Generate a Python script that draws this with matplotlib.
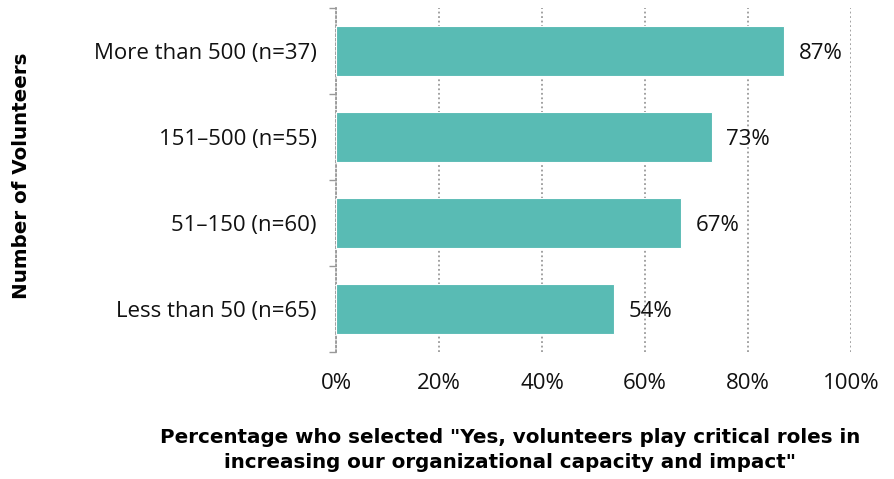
import matplotlib
matplotlib.use("Agg")
import matplotlib.pyplot as plt
from matplotlib.ticker import FixedLocator, PercentFormatter

categories = ["More than 500 (n=37)", "151\u2013500 (n=55)", "51\u2013150 (n=60)", "Less than 50 (n=65)"]
values = [87, 73, 67, 54]
x_ticks = [0, 20, 40, 60, 80, 100]

plt.rcParams["font.family"] = ["Open Sans", "DejaVu Sans"]

fig = plt.figure(figsize=(8.94, 4.79), dpi=100)
ax = fig.add_axes([336 / 894, 1 - 352 / 479, 515 / 894, 344 / 479])

ypos = list(range(len(categories)))
ax.barh(ypos, values, height=0.58, color="#59BBB4", edgecolor="white", linewidth=0.8, zorder=3)
ax.set_ylim(len(categories) - 0.5, -0.5)
ax.set_xlim(0, 100)

# value labels just right of each bar end
for y, v in zip(ypos, values):
    ax.text(v + 2.8, y + 0.03, f"{v}%", va="center", ha="left", fontsize=16, color="#111111")

ax.set_yticks(ypos)
ax.set_yticklabels(categories, fontsize=16, color="#111111")
ax.tick_params(axis="y", which="major", length=0, pad=14)
ax.yaxis.set_minor_locator(FixedLocator([i - 0.5 for i in range(len(categories) + 1)]))
ax.tick_params(axis="y", which="minor", length=5, color="#999999", width=1)

ax.set_xticks(x_ticks)
ax.xaxis.set_major_formatter(PercentFormatter(decimals=0))
ax.tick_params(axis="x", length=0, pad=15, labelsize=16, labelcolor="#111111")

ax.grid(axis="x", linestyle=(0, (1, 1.5)), color="#9a9a9a", linewidth=1.3, zorder=0)
for side in ["top", "right", "bottom"]:
    ax.spines[side].set_visible(False)
ax.spines["left"].set_linestyle((0, (1, 1.5)))
ax.spines["left"].set_color("#9a9a9a")
ax.spines["left"].set_linewidth(1.3)

bold_font = ["DejaVu Sans"]
fig.text(510 / 894, 1 - 450 / 479,
         "Percentage who selected \"Yes, volunteers play critical roles in\nincreasing our organizational capacity and impact\"",
         ha="center", va="center", fontsize=14.3, fontweight="bold", family=bold_font,
         color="#000000", linespacing=1.35)
fig.text(22 / 894, 1 - 176 / 479, "Number of Volunteers", rotation=90, ha="center", va="center",
         fontsize=14.3, fontweight="bold", family=bold_font, color="#000000")

fig.savefig("out.png", dpi=100)
